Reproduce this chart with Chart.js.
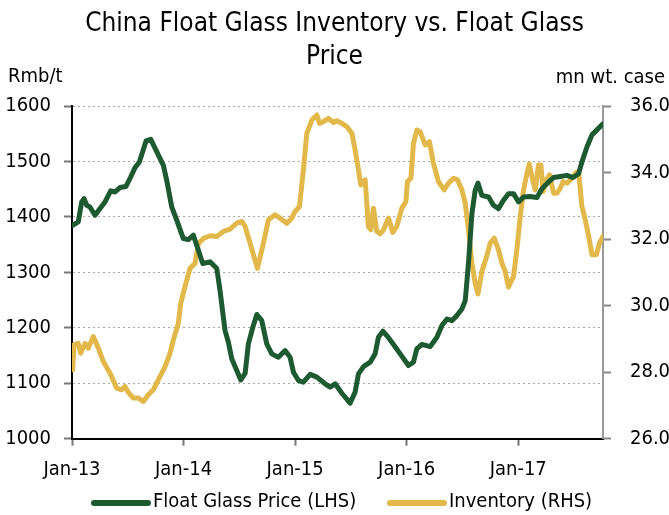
<!DOCTYPE html>
<html>
<head>
<meta charset="utf-8">
<script src="https://cdn.jsdelivr.net/npm/chart.js@4/dist/chart.umd.min.js"></script>
<style>
  body { margin: 0; background: #fff; }
  #wrap { width: 669px; height: 515px; }
</style>
</head>
<body>
<div id="wrap"><canvas id="chart" width="669" height="515"></canvas></div>
<script>
// x positions are decimal years (2013.0 = Jan-13)
var priceDates = [2013.006,2013.056,2013.087,2013.108,2013.132,2013.161,2013.206,2013.251,2013.296,2013.347,
  2013.386,2013.430,2013.484,2013.526,2013.565,2013.604,2013.664,2013.706,2013.744,2013.819,
  2013.849,2013.894,2013.939,2013.998,2014.043,2014.088,2014.118,2014.172,2014.238,2014.298,
  2014.327,2014.372,2014.402,2014.432,2014.477,2014.513,2014.552,2014.581,2014.621,2014.657,
  2014.701,2014.746,2014.791,2014.850,2014.910,2014.955,2014.985,2015.030,2015.074,2015.135,
  2015.195,2015.269,2015.314,2015.359,2015.419,2015.493,2015.538,2015.568,2015.613,2015.673,
  2015.717,2015.747,2015.787,2015.822,2015.882,2015.942,2016.016,2016.061,2016.091,2016.136,
  2016.211,2016.271,2016.316,2016.361,2016.405,2016.450,2016.495,2016.525,2016.554,2016.585,
  2016.614,2016.639,2016.674,2016.734,2016.778,2016.823,2016.868,2016.913,2016.958,2017.003,
  2017.048,2017.108,2017.168,2017.213,2017.272,2017.317,2017.377,2017.437,2017.491,2017.541,
  2017.571,2017.616,2017.661,2017.706,2017.760];
var priceVals = [1385,1391,1427,1433,1421,1418,1403,1415,1427,1447,
  1445,1453,1455,1472,1489,1499,1537,1540,1524,1493,
  1466,1418,1394,1361,1359,1367,1349,1316,1319,1307,
  1267,1195,1174,1144,1123,1106,1118,1171,1201,1224,
  1213,1171,1153,1147,1159,1147,1120,1105,1102,1116,
  1111,1099,1093,1099,1082,1064,1084,1117,1130,1138,
  1153,1183,1194,1186,1170,1153,1132,1138,1162,1170,
  1166,1183,1204,1216,1213,1222,1234,1249,1316,1406,
  1448,1461,1439,1436,1421,1415,1430,1442,1442,1427,
  1436,1437,1435,1451,1463,1471,1473,1475,1471,1478,
  1499,1526,1548,1557,1568];

var invDates = [2013.006,2013.018,2013.056,2013.078,2013.117,2013.146,2013.191,2013.236,2013.281,2013.341,
  2013.401,2013.446,2013.475,2013.505,2013.550,2013.595,2013.639,2013.684,2013.729,2013.789,
  2013.834,2013.879,2013.909,2013.953,2013.975,2014.013,2014.058,2014.103,2014.133,2014.178,
  2014.238,2014.298,2014.357,2014.417,2014.477,2014.522,2014.552,2014.596,2014.662,2014.716,
  2014.761,2014.821,2014.865,2014.926,2014.970,2015.000,2015.039,2015.074,2015.105,2015.150,
  2015.195,2015.218,2015.254,2015.299,2015.344,2015.374,2015.419,2015.464,2015.509,2015.538,
  2015.568,2015.589,2015.628,2015.657,2015.679,2015.702,2015.733,2015.762,2015.792,2015.837,
  2015.876,2015.912,2015.957,2015.993,2016.007,2016.038,2016.061,2016.091,2016.121,2016.166,
  2016.204,2016.240,2016.285,2016.336,2016.375,2016.420,2016.456,2016.495,2016.525,2016.554,
  2016.585,2016.614,2016.639,2016.674,2016.713,2016.749,2016.785,2016.823,2016.854,2016.883,
  2016.913,2016.958,2016.988,2017.018,2017.048,2017.072,2017.099,2017.123,2017.152,2017.182,
  2017.204,2017.222,2017.251,2017.281,2017.317,2017.348,2017.377,2017.402,2017.437,2017.481,
  2017.520,2017.541,2017.571,2017.601,2017.632,2017.661,2017.700,2017.729,2017.760];
var invVals = [28.07,28.82,28.87,28.57,28.87,28.72,29.07,28.72,28.32,27.97,
  27.52,27.47,27.57,27.39,27.22,27.22,27.12,27.32,27.47,27.87,
  28.17,28.57,28.97,29.47,30.07,30.57,31.12,31.27,31.87,32.02,
  32.10,32.08,32.23,32.30,32.48,32.53,32.38,31.88,31.12,31.88,
  32.58,32.73,32.63,32.48,32.63,32.83,32.98,34.08,35.18,35.58,
  35.73,35.48,35.53,35.63,35.50,35.56,35.48,35.38,35.18,34.68,
  34.08,33.63,33.78,32.38,32.28,32.93,32.23,32.16,32.28,32.63,
  32.20,32.38,32.93,33.13,33.73,33.83,34.88,35.28,35.23,34.83,
  34.93,34.28,33.73,33.48,33.68,33.83,33.78,33.48,33.08,32.28,
  31.28,30.68,30.35,31.03,31.43,31.88,32.03,31.68,31.28,31.03,
  30.56,30.88,31.68,32.68,33.48,33.88,34.26,33.88,33.48,34.23,
  34.23,33.43,33.78,33.93,33.38,33.38,33.53,33.73,33.68,33.83,
  34.00,34.03,32.98,32.58,32.08,31.53,31.53,31.88,32.08];

var yearTicks = [2013, 2014, 2015, 2016, 2017];
var yearLabels = ['Jan-13', 'Jan-14', 'Jan-15', 'Jan-16', 'Jan-17'];
var titleLines = ['China Float Glass Inventory vs. Float Glass', 'Price'];
var leftUnit = 'Rmb/t';
var rightUnit = 'mn wt. case';

var FONT = '"Liberation Sans Narrow", "Arial Narrow", "DejaVu Sans Condensed", sans-serif';
var GREEN = '#1e5a31';
var GOLD = '#e3b84b';

function toPoints(xs, ys) {
  var out = [];
  for (let i = 0; i < xs.length; i++) out.push({x: xs[i], y: ys[i]});
  return out;
}

// unit captions above the y axes + the legend row under the chart
var extras = {
  id: 'extras',
  afterDraw: function (chart) {
    var c = chart.ctx;
    c.save();
    c.fillStyle = '#000';
    c.font = '20px ' + FONT;
    c.textBaseline = 'alphabetic';
    c.textAlign = 'left';
    c.fillText(leftUnit, 8, 82);
    c.textAlign = 'right';
    c.fillText(rightUnit, 665, 83);

    var starts = [94, 390];
    c.textAlign = 'left';
    c.textBaseline = 'middle';
    c.lineCap = 'round';
    c.lineWidth = 6;
    chart.data.datasets.forEach(function (ds, i) {
      var x0 = starts[i];
      c.strokeStyle = ds.borderColor;
      c.beginPath();
      c.moveTo(x0, 503);
      c.lineTo(x0 + 54, 503);
      c.stroke();
      c.fillText(ds.label, x0 + 59, 502);
    });
    c.restore();
  }
};

Chart.defaults.font.family = FONT;
Chart.defaults.color = '#000';

var ctx = document.getElementById('chart').getContext('2d');
var chart = new Chart(ctx, {
  type: 'line',
  data: {
    datasets: [{
      label: 'Float Glass Price (LHS)',
      data: toPoints(priceDates, priceVals),
      yAxisID: 'yL',
      borderColor: GREEN,
      backgroundColor: GREEN,
      borderWidth: 5,
      borderCapStyle: 'round',
      borderJoinStyle: 'round',
      pointRadius: 0,
      tension: 0
    }, {
      label: 'Inventory (RHS)',
      data: toPoints(invDates, invVals),
      yAxisID: 'yR',
      borderColor: GOLD,
      backgroundColor: GOLD,
      borderWidth: 5,
      borderCapStyle: 'round',
      borderJoinStyle: 'round',
      pointRadius: 0,
      tension: 0
    }]
  },
  options: {
    responsive: false,
    animation: false,
    layout: {padding: 0},
    plugins: {
      title: {
        display: true,
        text: titleLines,
        font: {size: 26, weight: 'normal', lineHeight: 1.27},
        color: '#000',
        padding: {top: 8, bottom: 32}
      },
      legend: {display: false},
      tooltip: {enabled: false}
    },
    scales: {
      x: {
        type: 'linear',
        min: 2013,
        max: 2017.76,
        afterBuildTicks: function (axis) {
          axis.ticks = yearTicks.map(function (v) { return {value: v}; });
        },
        ticks: {
          font: {size: 20},
          padding: 12,
          maxRotation: 0,
          autoSkip: false,
          callback: function (v) { return yearLabels[yearTicks.indexOf(v)]; }
        },
        grid: {drawOnChartArea: false, tickLength: 7, tickColor: '#777', tickWidth: 2},
        border: {color: '#000', width: 2},
        afterFit: function (axis) { axis.height = 76.3; }
      },
      yL: {
        position: 'left',
        min: 1000,
        max: 1600,
        ticks: {stepSize: 100, font: {size: 20}, padding: 13,
          callback: function (v) { return String(v); }},
        grid: {
          color: function (c) { return c.tick && c.tick.value === 1000 ? 'rgba(0,0,0,0)' : '#a8a8a8'; },
          lineWidth: 1,
          tickLength: 8,
          tickColor: '#777',
          tickWidth: 2
        },
        border: {color: '#000', width: 2, dash: [2, 3]},
        afterFit: function (axis) { axis.width = 72; }
      },
      yR: {
        position: 'right',
        min: 26,
        max: 36,
        ticks: {stepSize: 2, font: {size: 20}, padding: 19,
          callback: function (v) { return v.toFixed(1); }},
        grid: {drawOnChartArea: false, tickLength: 8, tickColor: '#888', tickWidth: 2},
        border: {color: '#999', width: 2},
        afterFit: function (axis) { axis.width = 66; }
      }
    }
  },
  plugins: [extras]
});
</script>
</body>
</html>
